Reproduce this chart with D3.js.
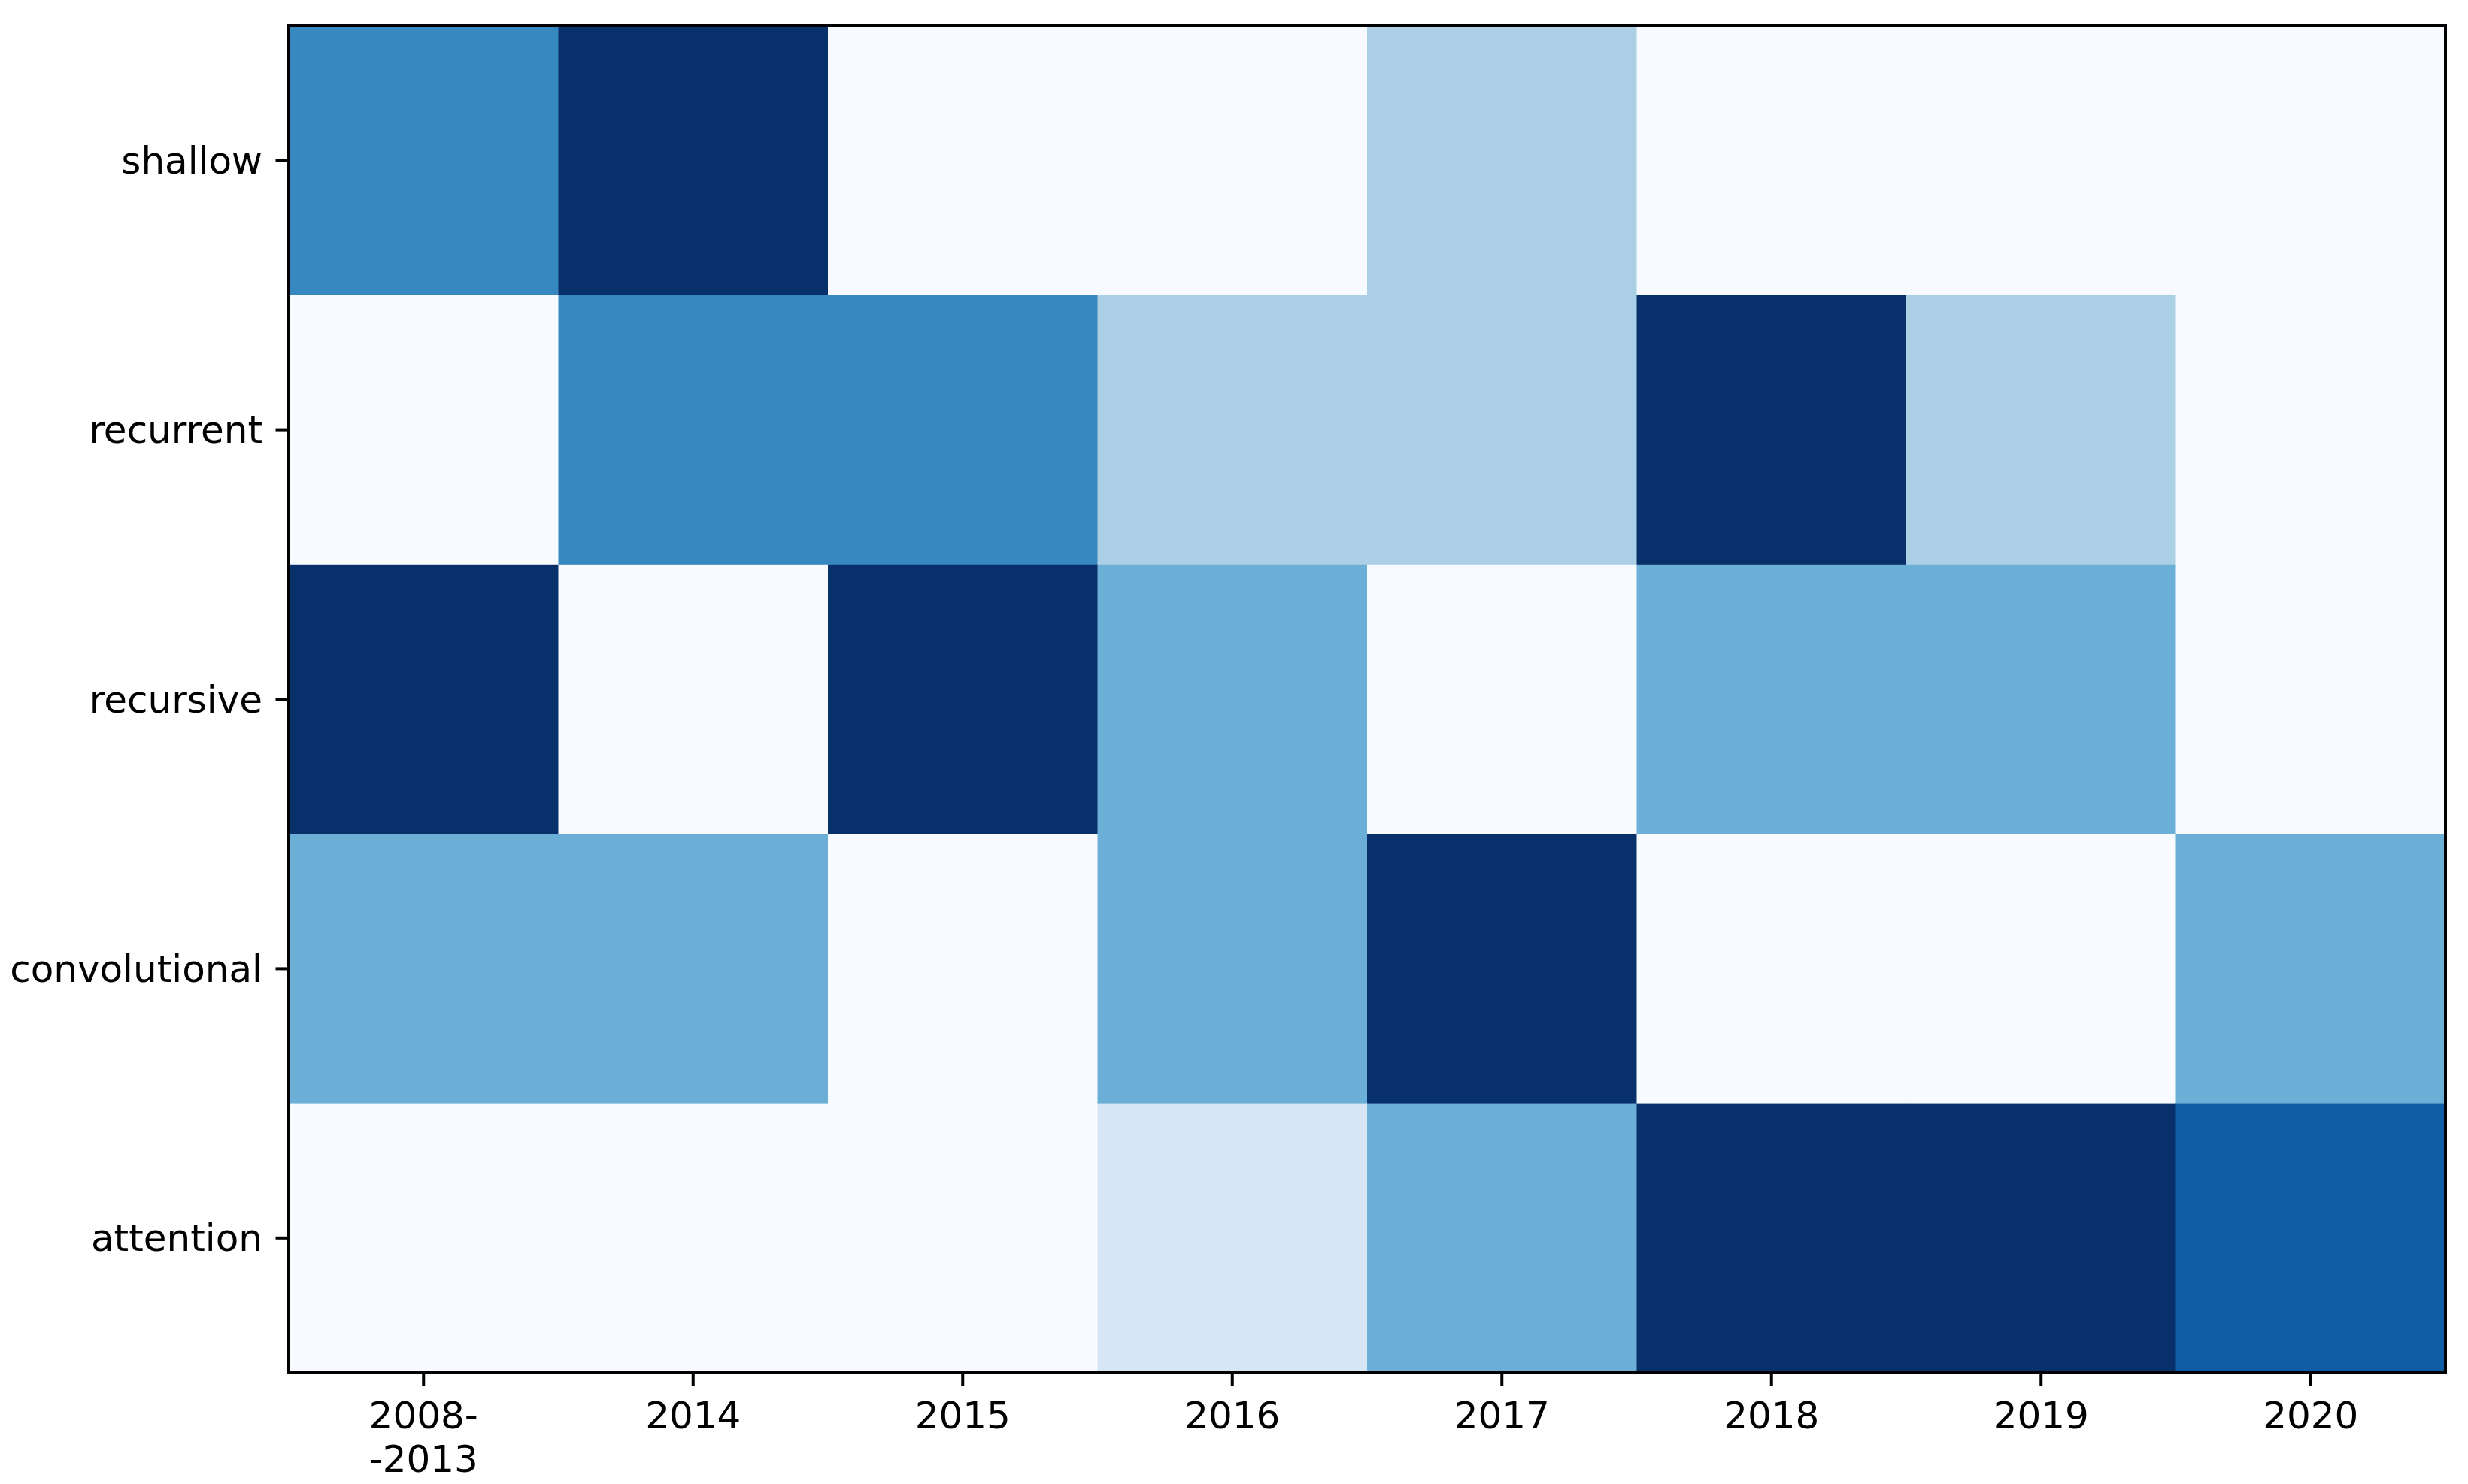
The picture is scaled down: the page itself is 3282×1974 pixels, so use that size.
<!DOCTYPE html>
<html>
<head>
<meta charset="utf-8">
<script src="https://cdn.jsdelivr.net/npm/d3@7"></script>
<style>
  body { margin: 0; background: #fff; }
  text { font-family: "DejaVu Sans", sans-serif; }
</style>
</head>
<body>
<svg id="chart"></svg>
<script>
// categories
var rowLabels = ['shallow', 'recurrent', 'recursive', 'convolutional', 'attention'];
var colLabels = ['2008-\n-2013', '2014', '2015', '2016', '2017', '2018', '2019', '2020'];

// values per row (one entry per year column)
var shallow       = [4, 6, 0, 0, 2, 0, 0, 0];
var recurrent     = [0, 4, 4, 2, 2, 6, 2, 0];
var recursive     = [6, 0, 6, 3, 0, 3, 3, 0];
var convolutional = [3, 3, 0, 3, 6, 0, 0, 3];
var attention     = [0, 0, 0, 1, 3, 6, 6, 5];

var rows = [shallow, recurrent, recursive, convolutional, attention];

var W = 3282, H = 1974;
var margin = {top: 34, right: 30, bottom: 148, left: 384};
var w = W - margin.left - margin.right,
    h = H - margin.top - margin.bottom;

var svg = d3.select('#chart').attr('width', W).attr('height', H);
var g = svg.append('g').attr('transform', `translate(${margin.left}, ${margin.top})`);

// matplotlib "Blues"
var bluesStops = ['#f7fbff', '#deebf7', '#c6dbef', '#9ecae1', '#6baed6', '#4292c6', '#2171b5', '#08519c', '#08306b'];
var color = d3.scaleLinear()
  .domain(d3.range(9).map(i => i * 6 / 8))
  .range(bluesStops)
  .interpolate(d3.interpolateRgb);

var x = d3.scaleBand().domain(d3.range(colLabels.length)).range([0, w]);
var y = d3.scaleBand().domain(d3.range(rowLabels.length)).range([0, h]);

var cells = [];
rows.forEach((r, i) => r.forEach((v, j) => cells.push({row: i, col: j, value: v})));

g.selectAll('rect.cell')
  .data(cells)
  .join('rect')
  .attr('class', 'cell')
  .attr('x', d => x(d.col))
  .attr('y', d => y(d.row))
  .attr('width', x.bandwidth() + 0.5)
  .attr('height', y.bandwidth() + 0.5)
  .attr('fill', d => color(d.value));

// frame
g.append('rect')
  .attr('width', w).attr('height', h)
  .attr('fill', 'none').attr('stroke', '#000').attr('stroke-width', 4);

var fs = 50, tickLen = 17.5, pad = 17.5;

// x ticks
var xt = g.selectAll('.xtick').data(colLabels).join('g')
  .attr('class', 'xtick')
  .attr('transform', (d, i) => `translate(${x(i) + x.bandwidth() / 2}, ${h})`);
xt.append('line').attr('y2', tickLen).attr('stroke', '#000').attr('stroke-width', 4);
xt.append('text')
  .attr('text-anchor', 'middle')
  .attr('font-size', fs)
  .attr('fill', '#000')
  .selectAll('tspan')
  .data(d => d.split('\n'))
  .join('tspan')
  .attr('x', 0)
  .attr('y', (d, i) => tickLen + pad + 39 + i * 58)
  .text(d => d);

// y ticks
var yt = g.selectAll('.ytick').data(rowLabels).join('g')
  .attr('class', 'ytick')
  .attr('transform', (d, i) => `translate(0, ${y(i) + y.bandwidth() / 2})`);
yt.append('line').attr('x2', -tickLen).attr('stroke', '#000').attr('stroke-width', 4);
yt.append('text')
  .attr('x', -tickLen - pad)
  .attr('dy', '0.35em')
  .attr('text-anchor', 'end')
  .attr('font-size', fs)
  .attr('fill', '#000')
  .text(d => d);
</script>
</body>
</html>
